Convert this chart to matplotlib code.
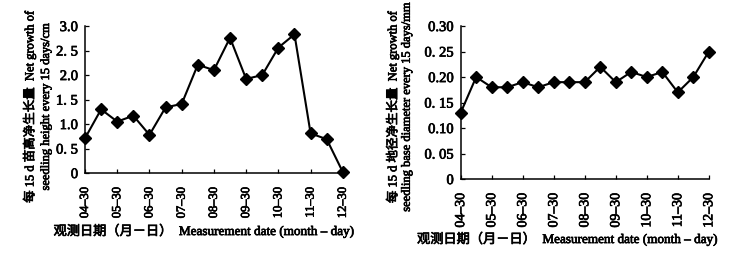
import numpy as np
import matplotlib
matplotlib.use('Agg')
import matplotlib.pyplot as plt
import matplotlib.patheffects as pe

plt.rcParams['font.family'] = ['Liberation Serif', 'Noto Sans CJK SC', 'DejaVu Sans']
plt.rcParams['axes.unicode_minus'] = False

# 每半月一个观测点，刻度只标在月末
tick_labels = ['04–30', '05–30', '06–30', '07–30', '08–30',
               '09–30', '10–30', '11–30', '12–30']
height_growth = [0.71, 1.30, 1.05, 1.17, 0.78, 1.34, 1.41, 2.21, 2.10,
                 2.76, 1.92, 2.00, 2.56, 2.83, 0.81, 0.69, 0.02]
diameter_growth = [0.13, 0.20, 0.18, 0.18, 0.19, 0.18, 0.19, 0.19, 0.19,
                   0.22, 0.19, 0.21, 0.20, 0.21, 0.17, 0.20, 0.25]
height_ticks = [0, 0.5, 1.0, 1.5, 2.0, 2.5, 3.0]
height_tick_labels = ['0', '0. 5', '1.0', '1. 5', '2.0', '2. 5', '3.0']
diam_ticks = [0, 0.05, 0.10, 0.15, 0.20, 0.25, 0.30]
diam_tick_labels = ['0', '0. 05', '0.10', '0. 15', '0.20', '0. 25', '0.30']

xlabel = '观测日期（月－日）  Measurement date (month – day)'
ylabel_h = '每 15 d 苗高净生长量  Net growth of\nseedling height every 15 days/cm'
ylabel_d = '每 15 d 地径净生长量  Net growth of\nseedling base diameter every 15 days/mm'

# 扫描件字体偏粗，用细描边模拟
heavy = [pe.withStroke(linewidth=0.5, foreground='black')]

fig = plt.figure(figsize=(7.43, 2.63), dpi=100)
ax1 = fig.add_axes([0.1144, 0.342, 0.347, 0.559])
ax2 = fig.add_axes([0.620, 0.319, 0.334, 0.582])


def draw(ax, values, yticks, yticklabels, ylim, ylabel, fs_x, fs_y,
         ylab, xlab, ylab_fs, ylab_ls):
    x = np.arange(len(values))
    ax.plot(x, values, color='black', lw=1.5, marker='D', ms=6,
            mfc='black', mec='black', clip_on=False, zorder=3)
    ax.set_xlim(0, len(values) - 1)
    ax.set_ylim(*ylim)
    ax.set_xticks(x[::2])
    ax.set_xticklabels(tick_labels, rotation=90, fontsize=fs_x)
    ax.set_yticks(yticks)
    ax.set_yticklabels(yticklabels, fontsize=fs_y)
    ax.spines['top'].set_visible(False)
    ax.spines['right'].set_visible(False)
    for s in ('left', 'bottom'):
        ax.spines[s].set_linewidth(1.1)
    ax.tick_params(direction='in', length=3, width=0.9)
    ax.tick_params(axis='x', pad=10)
    ax.tick_params(axis='y', pad=5)
    ax.set_xlabel(xlabel, fontsize=9.5)
    ax.xaxis.set_label_coords(*xlab)
    ax.set_ylabel(ylabel, fontsize=ylab_fs, linespacing=ylab_ls)
    ax.yaxis.set_label_coords(*ylab)
    for t in ax.get_xticklabels() + ax.get_yticklabels() + [ax.xaxis.label, ax.yaxis.label]:
        t.set_path_effects(heavy)


draw(ax1, height_growth, height_ticks, height_tick_labels, (0, 3.0), ylabel_h,
     9, 10.5, (-0.128, 0.45), (0.465, -0.345), 9, 1.4)
draw(ax2, diameter_growth, diam_ticks, diam_tick_labels, (0, 0.30), ylabel_d,
     10, 10.5, (-0.193, 0.47), (0.434, -0.344), 9, 1.15)

fig.savefig('out.png', dpi=100, facecolor='white')
